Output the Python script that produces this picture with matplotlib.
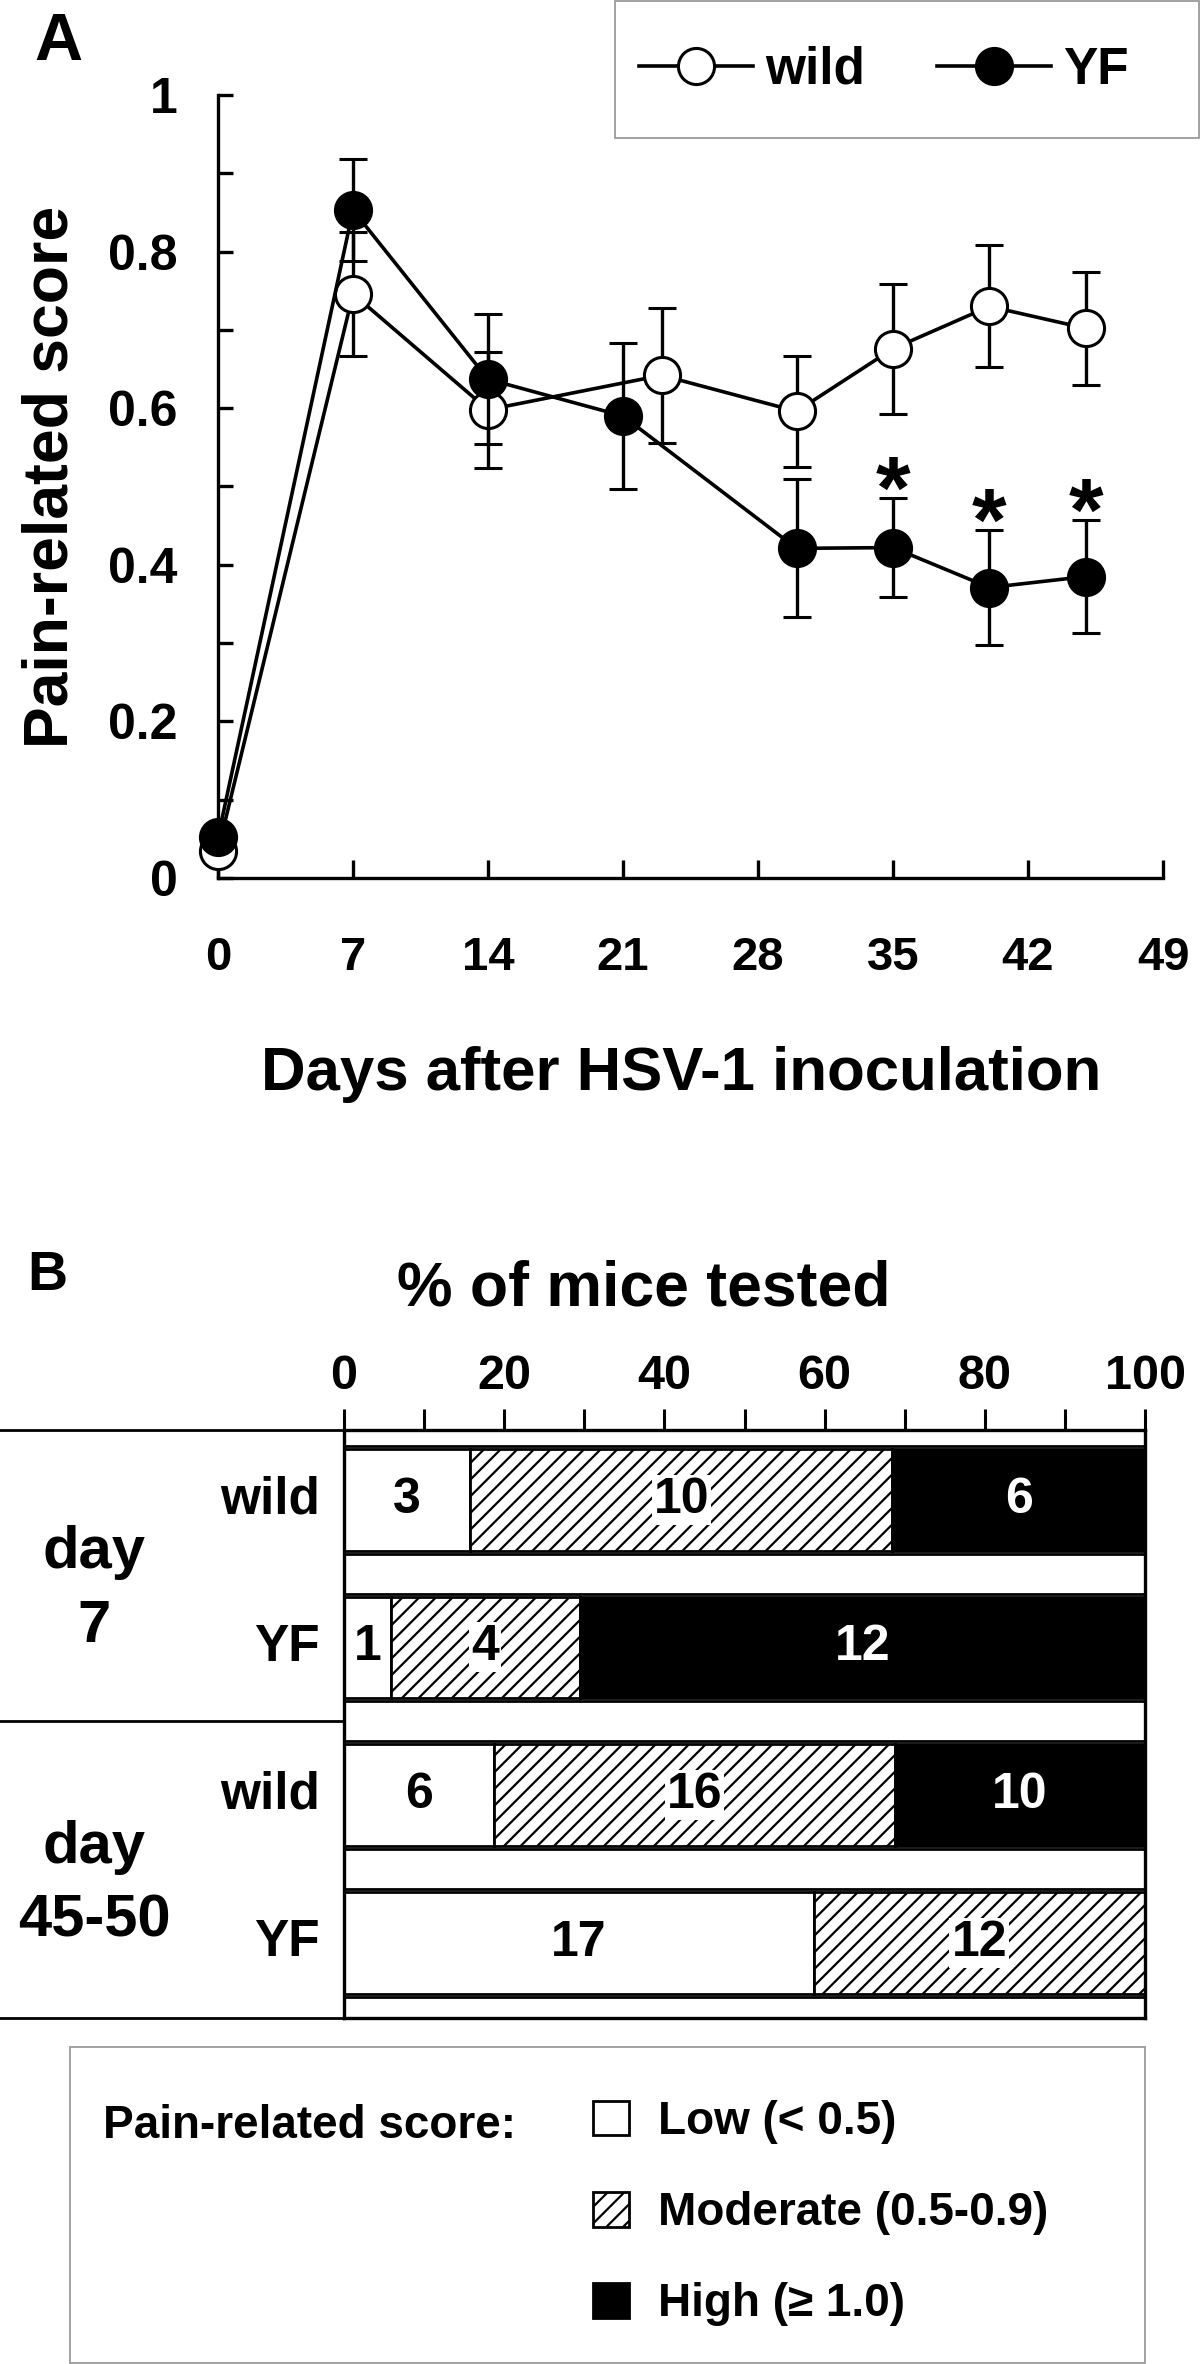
import numpy as np
import matplotlib
matplotlib.use("Agg")
import matplotlib.pyplot as plt
from matplotlib.lines import Line2D
from matplotlib.patches import Patch, Rectangle
from matplotlib.transforms import blended_transform_factory

plt.rcParams['font.family'] = ['Liberation Sans', 'DejaVu Sans']
plt.rcParams['font.weight'] = 'bold'
plt.rcParams['hatch.linewidth'] = 1.6

# ---------------- data: panel A ----------------
days_wild = [0, 7, 14, 23, 30, 35, 40, 45]
wild_mean = [0.035, 0.746, 0.598, 0.642, 0.596, 0.676, 0.730, 0.702]
wild_err = [0.01, 0.079, 0.074, 0.086, 0.071, 0.083, 0.078, 0.072]

days_yf = [0, 7, 14, 21, 30, 35, 40, 45]
yf_mean = [0.052, 0.853, 0.637, 0.590, 0.421, 0.422, 0.371, 0.385]
yf_err = [0.01, 0.065, 0.083, 0.093, 0.088, 0.063, 0.073, 0.072]

star_days = [35, 40, 45]
x_ticks = [0, 7, 14, 21, 28, 35, 42, 49]
y_ticks = [0, 0.2, 0.4, 0.6, 0.8, 1]
y_tick_labels = ['0', '0.2', '0.4', '0.6', '0.8', '1']

# ---------------- data: panel B ----------------
row_labels = ['wild', 'YF', 'wild', 'YF']
group_labels = ['day\n7', 'day\n45-50']
low_counts = [3, 1, 6, 17]
moderate_counts = [10, 4, 16, 12]
high_counts = [6, 12, 10, 0]
category_labels = ['Low (< 0.5)', 'Moderate (0.5-0.9)', 'High (\u2265 1.0)']

W, H = 1200, 2364
fig = plt.figure(figsize=(W / 100, H / 100), dpi=100)


def fx(px):
    return px / W


def fy(py):
    return 1 - py / H


# ================= Panel A =================
axA = fig.add_axes([fx(218), fy(878), (1163 - 218) / W, (878 - 95) / H])
axA.set_xlim(0, 49)
axA.set_ylim(0, 1)
for s in ['top', 'right']:
    axA.spines[s].set_visible(False)
for s in ['left', 'bottom']:
    axA.spines[s].set_linewidth(2.4)

common = dict(color='black', lw=2.6, marker='o', ms=26, mew=2.2, mec='black',
              ecolor='black', elinewidth=2.4, capsize=9.8, capthick=2.4, clip_on=False)
axA.errorbar(days_wild, wild_mean, yerr=wild_err, mfc='white', zorder=3, **common)
axA.errorbar(days_yf, yf_mean, yerr=yf_err, mfc='black', zorder=4, **common)

for d in star_days:
    i = days_yf.index(d)
    axA.annotate('*', xy=(d, yf_mean[i] + yf_err[i]), xytext=(0, -14),
                 textcoords='offset points', ha='center', va='baseline',
                 fontsize=64, fontweight='bold')

axA.set_xticks(x_ticks)
axA.set_xticklabels([str(t) for t in x_ticks])
axA.set_yticks(y_ticks)
axA.set_yticklabels(y_tick_labels)
axA.set_yticks(np.arange(0.1, 1.0, 0.2), minor=True)
axA.tick_params(axis='x', direction='in', length=13, width=2.4, labelsize=34, pad=42)
axA.tick_params(axis='y', which='both', direction='in', length=11, width=2.4,
                labelsize=36, pad=29)

fig.text(fx(681), fy(1090), 'Days after HSV-1 inoculation', ha='center', va='baseline',
         fontsize=44.5)
fig.text(fx(51), fy(477), 'Pain-related score', ha='center', va='center',
         rotation=90, fontsize=45)
fig.text(fx(34), fy(60), 'A', ha='left', va='baseline', fontsize=48)

handlesA = [Line2D([], [], color='black', lw=2.6, marker='o', ms=26, mew=2.2,
                   mfc='white', mec='black'),
            Line2D([], [], color='black', lw=2.6, marker='o', ms=26, mew=2.2,
                   mfc='black', mec='black')]
fig.legend(handlesA, ['wild', 'YF'], loc='center', bbox_to_anchor=(fx(884), fy(70)),
           ncol=2, frameon=False, fontsize=37, handlelength=2.22, handletextpad=0.23,
           columnspacing=1.4, borderpad=0, borderaxespad=0)
fig.add_artist(Rectangle((fx(615), fy(138)), (1199 - 615) / W, 137 / H,
                         transform=fig.transFigure, fill=False, edgecolor='#9a9a9a',
                         lw=1.3))

# ================= Panel B =================
axB = fig.add_axes([fx(344), fy(2018), (1145 - 344) / W, (2018 - 1430) / H])
axB.set_xlim(0, 100)
axB.set_ylim(3.51, -0.473)

low = np.array(low_counts, float)
mod = np.array(moderate_counts, float)
high = np.array(high_counts, float)
tot = low + mod + high
p_low = low / tot * 100
p_mod = mod / tot * 100
p_high = high / tot * 100
ypos = np.arange(len(row_labels))
bh = 0.69
gap = 0.02
strip_h = 1 - bh - 2 * gap

strip_pos = np.arange(-1, len(row_labels)) + 0.5
axB.barh(strip_pos, 100, height=strip_h, left=0, color='white', edgecolor='black',
         lw=2.0, zorder=2)
axB.barh(ypos, p_low, height=bh, left=0, color='white', edgecolor='black', lw=2.0,
         zorder=2)
axB.barh(ypos, p_mod, height=bh, left=p_low, color='white', edgecolor='black', lw=2.0,
         hatch='//', zorder=2)
axB.barh(ypos, p_high, height=bh, left=p_low + p_mod, color='black', edgecolor='black',
         lw=2.0, zorder=2)

for i in range(len(row_labels)):
    if low[i] > 0:
        axB.text(p_low[i] / 2, ypos[i], f'{int(low[i])}', ha='center', va='center',
                 fontsize=36, color='black', zorder=5)
    if mod[i] > 0:
        axB.text(p_low[i] + p_mod[i] / 2, ypos[i], f'{int(mod[i])}', ha='center',
                 va='center', fontsize=36, color='black', zorder=5,
                 bbox=dict(facecolor='white', edgecolor='none', pad=1.5))
    if high[i] > 0:
        axB.text(p_low[i] + p_mod[i] + p_high[i] / 2, ypos[i], f'{int(high[i])}',
                 ha='center', va='center', fontsize=36, color='white', zorder=5)

for s in ['top', 'bottom', 'left', 'right']:
    axB.spines[s].set_linewidth(2.4)
    axB.spines[s].set_zorder(6)
axB.xaxis.set_ticks_position('top')
axB.xaxis.set_label_position('top')
axB.set_xticks(np.arange(0, 101, 20))
axB.set_xticks(np.arange(10, 100, 20), minor=True)
axB.tick_params(axis='x', which='both', direction='out', length=15, width=2.2,
                labelsize=35, pad=7)
axB.set_yticks([])

trB = blended_transform_factory(fig.transFigure, axB.transData)
for i, lab in enumerate(row_labels):
    axB.text(fx(320), ypos[i], lab, transform=trB, ha='right', va='center', fontsize=37)
for g, lab in enumerate(group_labels):
    axB.text(fx(94), 2 * g + 0.605, lab, transform=trB, ha='center', va='center',
             fontsize=43, linespacing=1.44)
for yl in [-0.473, 1.5, 3.51]:
    axB.plot([0, fx(344)], [yl, yl], transform=trB, color='black', lw=2.0,
             clip_on=False)

fig.text(fx(644), fy(1306), '% of mice tested', ha='center', va='baseline', fontsize=45)
fig.text(fx(27), fy(1290), 'B', ha='left', va='baseline', fontsize=40)

# legend B
handlesB = [Patch(facecolor='white', edgecolor='black', lw=2.0),
            Patch(facecolor='white', edgecolor='black', lw=2.0, hatch='//'),
            Patch(facecolor='black', edgecolor='black', lw=2.0)]
fig.legend(handlesB, category_labels, loc='upper left',
           bbox_to_anchor=(fx(593), fy(2100)), frameon=False, fontsize=33,
           handlelength=0.786, handleheight=0.786, handletextpad=0.63,
           labelspacing=1.03, borderpad=0, borderaxespad=0)
fig.text(fx(103), fy(2138), 'Pain-related score:', ha='left', va='baseline', fontsize=33)
fig.add_artist(Rectangle((fx(70), fy(2363)), (1145 - 70) / W, (2363 - 2047) / H,
                         transform=fig.transFigure, fill=False, edgecolor='#9a9a9a',
                         lw=1.3))

fig.savefig('out.png', dpi=100)
